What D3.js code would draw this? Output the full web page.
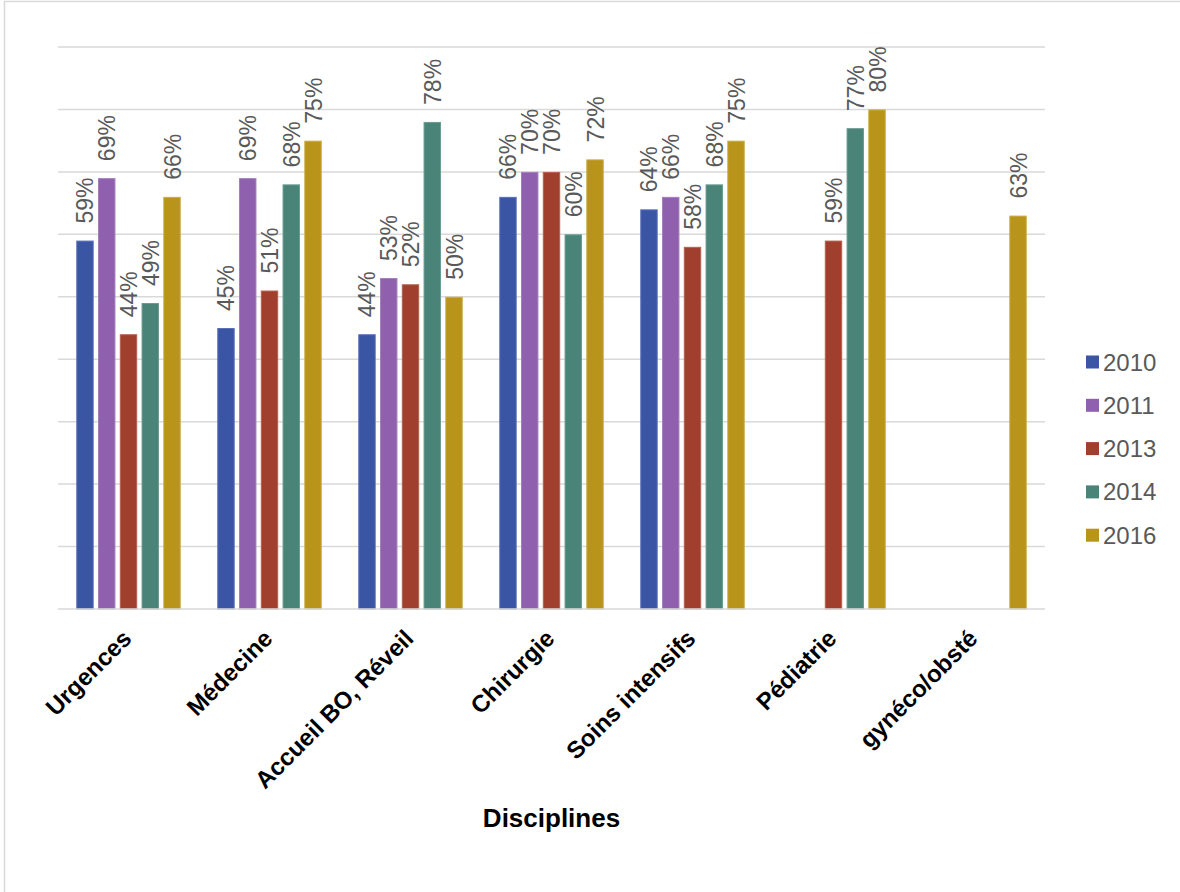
<!DOCTYPE html>
<html><head><meta charset="utf-8">
<script src="https://cdn.jsdelivr.net/npm/d3@7"></script>
<style>body{margin:0;background:#fff}svg{display:block;font-family:"Liberation Sans",Arial,sans-serif}</style>
</head><body><svg id="c" width="1180" height="892"></svg>
<script>
const categories = ["Urgences","Médecine","Accueil BO, Réveil","Chirurgie","Soins intensifs","Pédiatrie","gynéco/obsté"];
const seriesNames = ["2010","2011","2013","2014","2016"];
const v2010 = [59,45,44,66,64,null,null];
const v2011 = [69,69,53,70,66,null,null];
const v2013 = [44,51,52,70,58,59,null];
const v2014 = [49,68,78,60,68,77,null];
const v2016 = [66,75,50,72,75,80,63];
const colors = ["#3B55A5","#8F60AE","#A13F2E","#4A8479","#B8951A"];
const strokes = ["#5a70b5","#a57ebd","#b5604f","#6a9a90","#c9ab45"];
const gridTicks = [10,20,30,40,50,60,70,80,90];
const xTitle = "Disciplines";

const series = [v2010,v2011,v2013,v2014,v2016];
const svg = d3.select("#c");
svg.append("rect").attr("x",4.5).attr("y",1.5).attr("width",1300).attr("height",1000)
  .attr("fill","#fff").attr("stroke","#d9d9d9").attr("stroke-width",1.5);

const x0 = d3.scaleBand().domain(categories).range([58,1045]).padding(0);
const x1 = d3.scaleBand().domain(seriesNames).range([0,x0.bandwidth()]).paddingInner(0.2).paddingOuter(0.84);
const y = d3.scaleLinear().domain([0,90]).range([609,47]);

svg.append("g").selectAll("line").data(gridTicks).join("line")
  .attr("x1",58).attr("x2",1045).attr("y1",d=>y(d)).attr("y2",d=>y(d))
  .attr("stroke","#d9d9d9").attr("stroke-width",1.5);

const g = svg.append("g");
series.forEach((arr,si)=>{
  const data = categories.map((c,i)=>({c,v:arr[i]})).filter(d=>d.v!=null);
  g.append("g").selectAll("rect").data(data).join("rect")
    .attr("x",d=>x0(d.c)+x1(seriesNames[si])+0.5)
    .attr("y",d=>y(d.v)+0.5)
    .attr("width",x1.bandwidth()-1)
    .attr("height",d=>y(0)-y(d.v)-0.5)
    .attr("fill",colors[si]).attr("stroke",strokes[si]).attr("stroke-width",1);
  g.append("g").selectAll("text").data(data).join("text")
    .attr("transform",d=>`translate(${x0(d.c)+x1(seriesNames[si])+x1.bandwidth()/2+8.5},${y(d.v)-17}) rotate(-90)`)
    .attr("font-size",23).attr("fill","#595959").text(d=>d.v+"%");
});

// axis line
svg.append("line").attr("x1",58).attr("x2",1045).attr("y1",y(0)).attr("y2",y(0))
  .attr("stroke","#d9d9d9").attr("stroke-width",1.5);

svg.append("g").selectAll("text").data(categories).join("text")
  .attr("transform",d=>`translate(${x0(d)+x0.bandwidth()/2+4.5},640) rotate(-45)`)
  .attr("text-anchor","end").attr("font-size",24).attr("font-weight","bold").attr("fill","#000")
  .text(d=>d);

svg.append("text").attr("x",(58+1045)/2).attr("y",827).attr("text-anchor","middle")
  .attr("font-size",26).attr("font-weight","bold").attr("fill","#000").text(xTitle);

const leg = svg.append("g").selectAll("g").data(seriesNames).join("g")
  .attr("transform",(d,i)=>`translate(1086,${362+i*43.3})`);
leg.append("rect").attr("x",0).attr("y",-6.5).attr("width",13).attr("height",13).attr("fill",(d,i)=>colors[i]);
leg.append("text").attr("x",17).attr("y",8.5).attr("font-size",24).attr("fill","#595959").text(d=>d);
</script></body></html>
